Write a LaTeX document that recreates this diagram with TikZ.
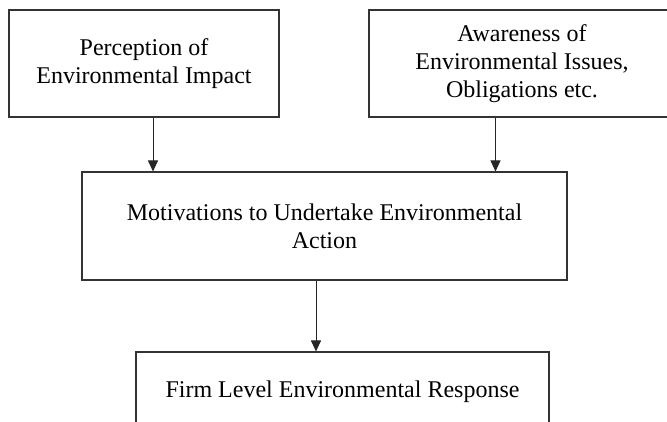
\documentclass[tikz,border=0pt]{standalone}
\usepackage{fontspec}
\setmainfont{Liberation Serif}
\usetikzlibrary{arrows.meta}
\begin{document}
\begin{tikzpicture}[x=1pt,y=-1pt,
  box/.style={draw=black!80, line width=1.1pt, rectangle, inner sep=0pt,
    align=center, font=\fontsize{24}{28}\selectfont},
  arr/.style={draw=black!85, line width=1pt, -{Triangle[length=11pt,width=10pt]}}]
\useasboundingbox (0,0) rectangle (667,421);
\clip (0,0) rectangle (667,421);
\fill[white] (0,0) rectangle (667,421);

% upper row
\node[box, minimum width=270pt, minimum height=107pt] (perc) at (144,63.5)
  {Perception of\\Environmental Impact};
\node[box, minimum width=306pt, minimum height=107pt] (aware) at (522,63.5)
  {Awareness of\\Environmental Issues,\\Obligations etc.};

% middle
\node[box, minimum width=485pt, minimum height=108pt] (motiv) at (324.5,226)
  {Motivations to Undertake Environmental\\Action};

% bottom
\node[box, minimum width=413pt, minimum height=80pt] (resp) at (342.5,392)
  {Firm Level Environmental Response};

% connectors
\draw[arr] ([xshift=9pt]perc.south) -- ([xshift=9pt]perc.south |- motiv.north);
\draw[arr] ([xshift=-26.5pt]aware.south) -- ([xshift=-26.5pt]aware.south |- motiv.north);
\draw[arr] ([xshift=-8.5pt]motiv.south) -- ([xshift=-8.5pt]motiv.south |- resp.north);
\end{tikzpicture}
\end{document}
